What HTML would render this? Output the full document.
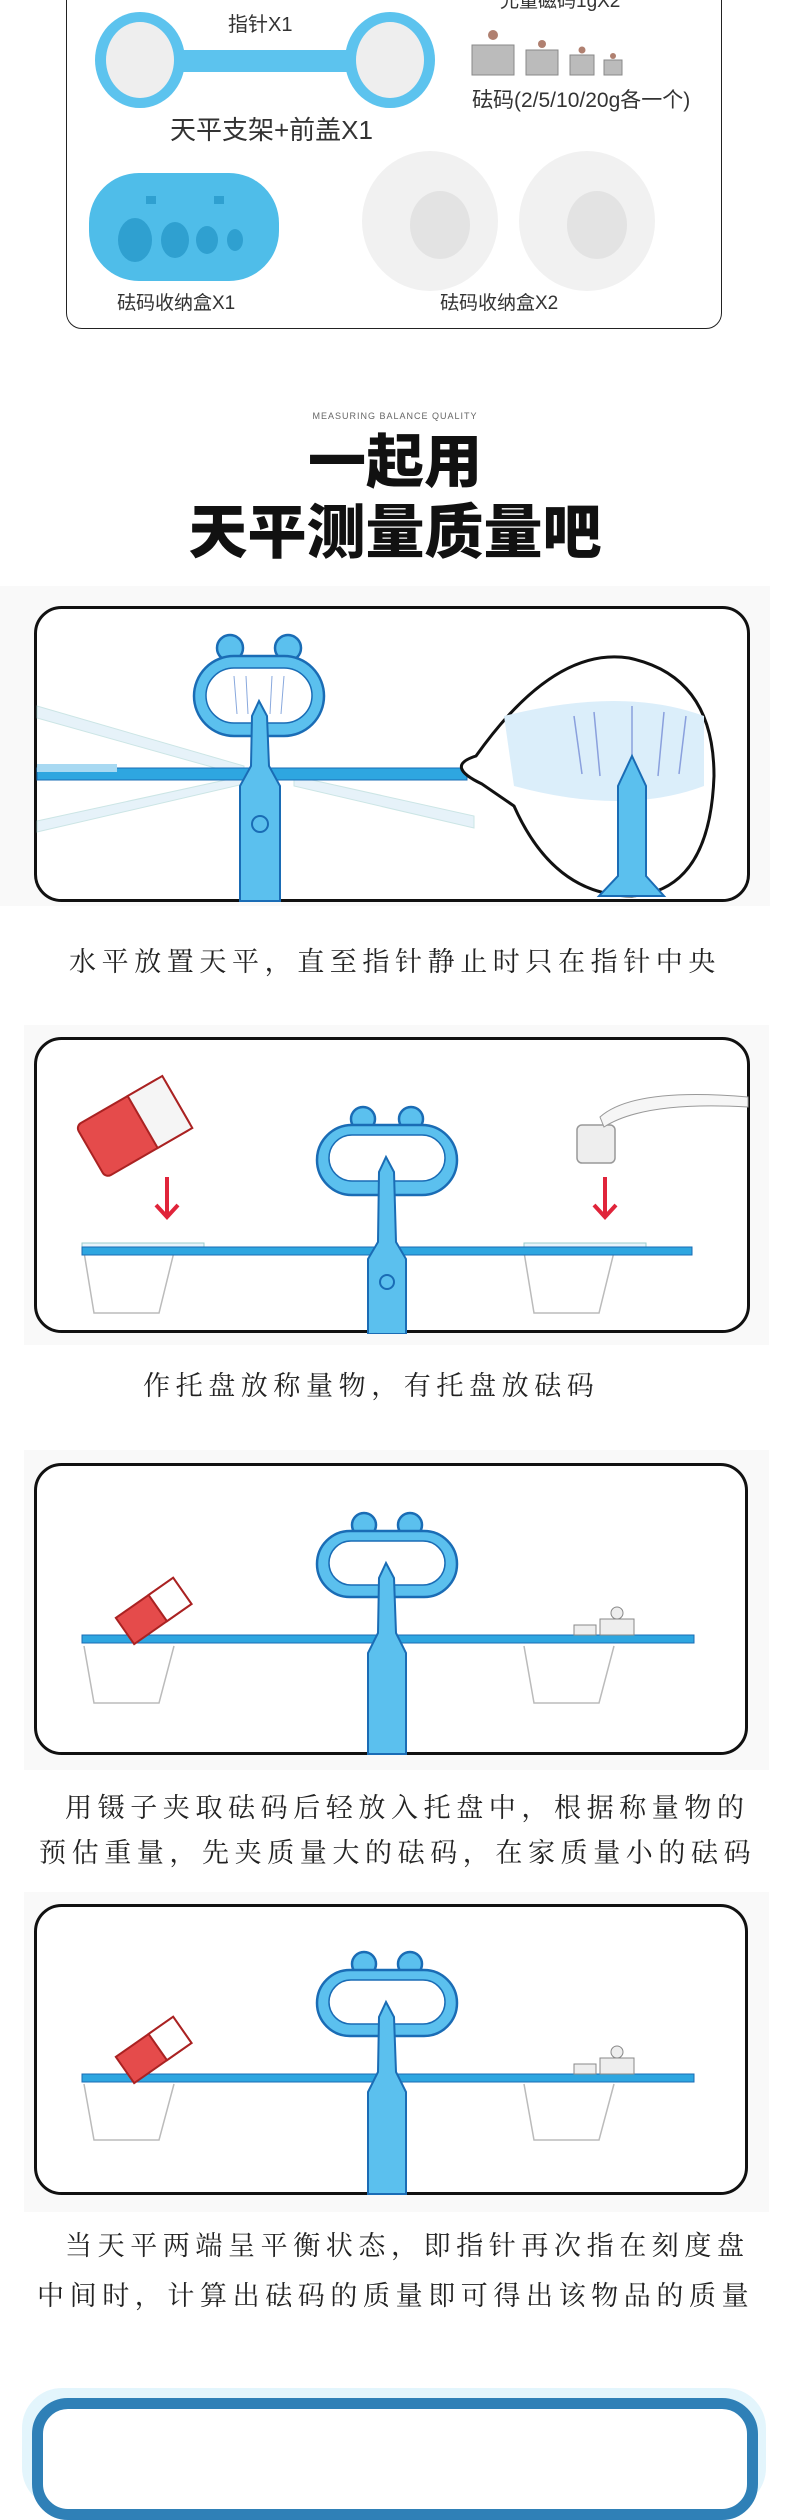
<!DOCTYPE html>
<html><head><meta charset="utf-8">
<style>
html,body{margin:0;padding:0}
body{width:790px;height:2423px;position:relative;background:#fff;overflow:hidden;font-family:"Liberation Sans","Noto Sans CJK SC",sans-serif}
.a{position:absolute;white-space:nowrap}
.cap{position:absolute;white-space:nowrap;font-family:"Liberation Serif","Noto Serif CJK SC",serif;font-size:27px;color:#222;letter-spacing:5.6px}
.lbl{position:absolute;white-space:nowrap;font-size:19px;color:#333}
</style></head><body>

<!-- top product box -->
<div class="a" style="left:66px;top:-20px;width:654px;height:347px;border:1.5px solid #222;border-radius:16px"></div>
<div class="lbl" style="left:228px;top:8px;font-size:20px">指针X1</div>
<div class="lbl" style="left:500px;top:-14px">允量磁码1gX2</div>
<svg class="a" style="left:0;top:0" width="790" height="330">
 <ellipse cx="140" cy="60" rx="45" ry="48" fill="#5cc3ee"/><ellipse cx="140" cy="60" rx="34" ry="38" fill="#eee"/>
 <ellipse cx="390" cy="60" rx="45" ry="48" fill="#5cc3ee"/><ellipse cx="390" cy="60" rx="34" ry="38" fill="#eee"/>
 <rect x="180" y="50" width="170" height="22" fill="#5cc3ee"/>
 <g fill="#bbb" stroke="#888"><rect x="472" y="45" width="42" height="30"/><rect x="526" y="50" width="32" height="25"/><rect x="570" y="55" width="24" height="20"/><rect x="604" y="60" width="18" height="15"/></g>
 <g fill="#b08070"><circle cx="493" cy="35" r="5"/><circle cx="542" cy="44" r="4"/><circle cx="582" cy="50" r="3.5"/><circle cx="613" cy="56" r="3"/></g>
 <rect x="89" y="173" width="190" height="108" rx="50" fill="#4fbde9"/>
 <g fill="#2fa0d0"><ellipse cx="135" cy="240" rx="17" ry="22"/><ellipse cx="175" cy="240" rx="14" ry="18"/><ellipse cx="207" cy="240" rx="11" ry="14"/><ellipse cx="235" cy="240" rx="8" ry="11"/><rect x="146" y="196" width="10" height="8"/><rect x="214" y="196" width="10" height="8"/></g>
 <ellipse cx="430" cy="221" rx="68" ry="70" fill="#f1f1f1"/><ellipse cx="440" cy="225" rx="30" ry="34" fill="#e3e3e3"/>
 <ellipse cx="587" cy="221" rx="68" ry="70" fill="#f1f1f1"/><ellipse cx="597" cy="225" rx="30" ry="34" fill="#e3e3e3"/>
</svg>
<div class="lbl" style="left:170px;top:110px;font-size:26px">天平支架+前盖X1</div>
<div class="lbl" style="left:472px;top:84px;font-size:21px">砝码(2/5/10/20g各一个)</div>
<div class="lbl" style="left:117px;top:288px">砝码收纳盒X1</div>
<div class="lbl" style="left:440px;top:288px">砝码收纳盒X2</div>

<div class="a" style="left:0;width:790px;top:411px;text-align:center;font-size:9px;color:#666;letter-spacing:1px">MEASURING BALANCE QUALITY</div>
<div class="a" style="left:0;width:790px;top:428px;text-align:center;font-size:58px;font-weight:900;color:#111;line-height:70px">一起用</div>
<div class="a" style="left:0;width:790px;top:498px;text-align:center;font-size:59px;font-weight:900;color:#111;line-height:70px">天平测量质量吧</div>

<!-- panels background -->
<div class="a" style="left:0;top:586px;width:770px;height:320px;background:#f9f9f9"></div>
<div class="a" style="left:24px;top:1025px;width:745px;height:320px;background:#f9f9f9"></div>
<div class="a" style="left:24px;top:1450px;width:745px;height:320px;background:#f9f9f9"></div>
<div class="a" style="left:24px;top:1892px;width:745px;height:320px;background:#f9f9f9"></div>

<!-- Panel 1 -->
<svg class="a" style="left:34px;top:606px" width="716" height="297">
 <rect x="1.5" y="1.5" width="713" height="293" rx="26" fill="#fff" stroke="#111" stroke-width="3"/>
 <g opacity="0.5" fill="#cfe6f5" stroke="#9cc"><path d="M3 100 L210 160 L210 170 L3 112Z"/><path d="M3 215 L210 170 L210 178 L3 226Z"/><path d="M260 170 L440 210 L440 222 L260 180Z"/></g>
 <rect x="3" y="162" width="430" height="12" fill="#2ea6e0" stroke="#1a6cb5"/>
 <rect x="3" y="158" width="80" height="8" fill="#a8d9f2"/>
 <g fill="#5bc0ee" stroke="#1a6cb5" stroke-width="2.5">
  <circle cx="196" cy="42" r="13"/><circle cx="254" cy="42" r="13"/>
  <rect x="160" y="50" width="130" height="80" rx="40"/>
 </g>
 <rect x="172" y="62" width="106" height="55" rx="28" fill="#fff" stroke="#1a6cb5" stroke-width="1.5"/>
 <g stroke="#88a8dd"><line x1="200" y1="70" x2="203" y2="108"/><line x1="212" y1="70" x2="214" y2="108"/><line x1="238" y1="70" x2="236" y2="108"/><line x1="250" y1="70" x2="247" y2="108"/></g>
 <path d="M225 95 L233 110 L235 160 L246 180 L246 295 L206 295 L206 180 L217 160 L218 110Z" fill="#5bc0ee" stroke="#1a6cb5" stroke-width="2"/>
 <circle cx="226" cy="218" r="8" fill="none" stroke="#1a6cb5" stroke-width="2"/>
 <path d="M442 150 Q520 40 595 52 Q680 70 680 170 Q676 285 598 290 Q520 290 480 200 L448 178 Q410 160 442 150Z" fill="#fff" stroke="#111" stroke-width="3"/>
 <path d="M470 110 Q590 80 670 110 L670 180 Q590 210 480 180Z" fill="#dbeefa"/>
 <g stroke="#8aa0dd" stroke-width="1.5"><line x1="540" y1="110" x2="548" y2="168"/><line x1="560" y1="106" x2="566" y2="170"/><line x1="598" y1="100" x2="598" y2="180"/><line x1="630" y1="106" x2="624" y2="170"/><line x1="652" y1="110" x2="645" y2="168"/></g>
 <path d="M598 150 L612 180 L612 270 L630 290 L565 290 L584 270 L584 180Z" fill="#5bc0ee" stroke="#1a6cb5" stroke-width="2"/>
</svg>
<div class="cap" style="left:69px;top:940px">水平放置天平，直至指针静止时只在指针中央</div>

<svg class="a" style="left:34px;top:1037px" width="716" height="297">
 <rect x="1.5" y="1.5" width="713" height="293" rx="26" fill="#fff" stroke="#111" stroke-width="3"/>
 <g fill="none" stroke="#bbb" stroke-width="1.5"><path d="M50 215 L60 276 L125 276 L140 215"/><path d="M490 215 L500 276 L565 276 L580 215"/></g>
 <rect x="48" y="206" width="122" height="5" fill="#e8f4fb" stroke="#9cc"/><rect x="490" y="206" width="122" height="5" fill="#e8f4fb" stroke="#9cc"/>
 <rect x="48" y="210" width="610" height="8" fill="#2ea6e0" stroke="#1a6cb5"/>
 <g fill="#5bc0ee" stroke="#1a6cb5" stroke-width="2.5"><circle cx="329" cy="82" r="12"/><circle cx="377" cy="82" r="12"/><rect x="283" y="88" width="140" height="70" rx="35"/></g>
 <rect x="295" y="98" width="116" height="46" rx="23" fill="#fff" stroke="#1a6cb5" stroke-width="1.5"/>
 <path d="M352 120 L360 135 L362 205 L372 222 L372 297 L334 297 L334 222 L344 205 L345 135Z" fill="#5bc0ee" stroke="#1a6cb5" stroke-width="2"/>
 <circle cx="353" cy="245" r="7" fill="none" stroke="#1a6cb5" stroke-width="2"/>
 <g transform="rotate(-30 100 90)"><rect x="50" y="60" width="100" height="60" rx="6" fill="#e54b4b" stroke="#a22" stroke-width="2"/><rect x="110" y="60" width="40" height="60" fill="#f5f5f5" stroke="#a22" stroke-width="2"/></g>
 <g stroke="#e0243a" stroke-width="4" fill="none"><line x1="133" y1="140" x2="133" y2="178"/><path d="M122 168 L133 180 L144 168"/><line x1="571" y1="140" x2="571" y2="178"/><path d="M560 168 L571 180 L582 168"/></g>
 <rect x="543" y="88" width="38" height="38" rx="5" fill="#eee" stroke="#999" stroke-width="1.5"/>
 <path d="M566 80 Q600 50 714 60 L714 70 Q610 64 570 90Z" fill="#f6f6f6" stroke="#999"/>
</svg>
<div class="cap" style="left:143px;top:1364px">作托盘放称量物，有托盘放砝码</div>

<svg class="a" style="left:34px;top:1463px" width="716" height="293">
 <rect x="1.5" y="1.5" width="711" height="289" rx="26" fill="#fff" stroke="#111" stroke-width="3"/>
 <g fill="none" stroke="#bbb" stroke-width="1.5"><path d="M50 183 L60 240 L125 240 L140 183"/><path d="M490 183 L500 240 L565 240 L580 183"/></g>
 <rect x="48" y="172" width="612" height="8" fill="#2ea6e0" stroke="#1a6cb5"/>
 <g fill="#5bc0ee" stroke="#1a6cb5" stroke-width="2.5"><circle cx="330" cy="62" r="12"/><circle cx="376" cy="62" r="12"/><rect x="283" y="68" width="140" height="66" rx="33"/></g>
 <rect x="295" y="78" width="116" height="44" rx="22" fill="#fff" stroke="#1a6cb5" stroke-width="1.5"/>
 <path d="M352 100 L360 115 L362 170 L372 190 L372 291 L334 291 L334 190 L344 170 L345 115Z" fill="#5bc0ee" stroke="#1a6cb5" stroke-width="2"/>
 <g transform="rotate(-35 115 150)"><rect x="85" y="135" width="70" height="32" fill="#e54b4b" stroke="#a22" stroke-width="2"/><rect x="125" y="135" width="30" height="32" fill="#fff" stroke="#a22" stroke-width="2"/></g>
 <g fill="#eee" stroke="#888"><rect x="540" y="162" width="22" height="10"/><rect x="566" y="156" width="34" height="16"/><circle cx="583" cy="150" r="6"/></g>
</svg>
<div class="cap" style="left:65px;top:1786px">用镊子夹取砝码后轻放入托盘中，根据称量物的</div>
<div class="cap" style="left:39px;top:1831px">预估重量，先夹质量大的砝码，在家质量小的砝码</div>

<svg class="a" style="left:34px;top:1904px" width="716" height="292">
 <rect x="1.5" y="1.5" width="711" height="288" rx="26" fill="#fff" stroke="#111" stroke-width="3"/>
 <g fill="none" stroke="#bbb" stroke-width="1.5"><path d="M50 180 L60 236 L125 236 L140 180"/><path d="M490 180 L500 236 L565 236 L580 180"/></g>
 <rect x="48" y="170" width="612" height="8" fill="#2ea6e0" stroke="#1a6cb5"/>
 <g fill="#5bc0ee" stroke="#1a6cb5" stroke-width="2.5"><circle cx="330" cy="60" r="12"/><circle cx="376" cy="60" r="12"/><rect x="283" y="66" width="140" height="66" rx="33"/></g>
 <rect x="295" y="76" width="116" height="44" rx="22" fill="#fff" stroke="#1a6cb5" stroke-width="1.5"/>
 <path d="M352 98 L360 113 L362 168 L372 188 L372 290 L334 290 L334 188 L344 168 L345 113Z" fill="#5bc0ee" stroke="#1a6cb5" stroke-width="2"/>
 <g transform="rotate(-35 115 148)"><rect x="85" y="133" width="70" height="32" fill="#e54b4b" stroke="#a22" stroke-width="2"/><rect x="125" y="133" width="30" height="32" fill="#fff" stroke="#a22" stroke-width="2"/></g>
 <g fill="#eee" stroke="#888"><rect x="540" y="160" width="22" height="10"/><rect x="566" y="154" width="34" height="16"/><circle cx="583" cy="148" r="6"/></g>
</svg>
<div class="cap" style="left:65px;top:2224px">当天平两端呈平衡状态，即指针再次指在刻度盘</div>
<div class="cap" style="left:37px;top:2274px">中间时，计算出砝码的质量即可得出该物品的质量</div>

<!-- bottom blue box -->
<div class="a" style="left:22px;top:2388px;width:744px;height:120px;border-radius:40px;background:#e3f5fc"></div>
<div class="a" style="left:32px;top:2398px;width:704px;height:100px;border:11px solid #2f80b7;border-radius:36px;background:#fff"></div>
</body></html>
